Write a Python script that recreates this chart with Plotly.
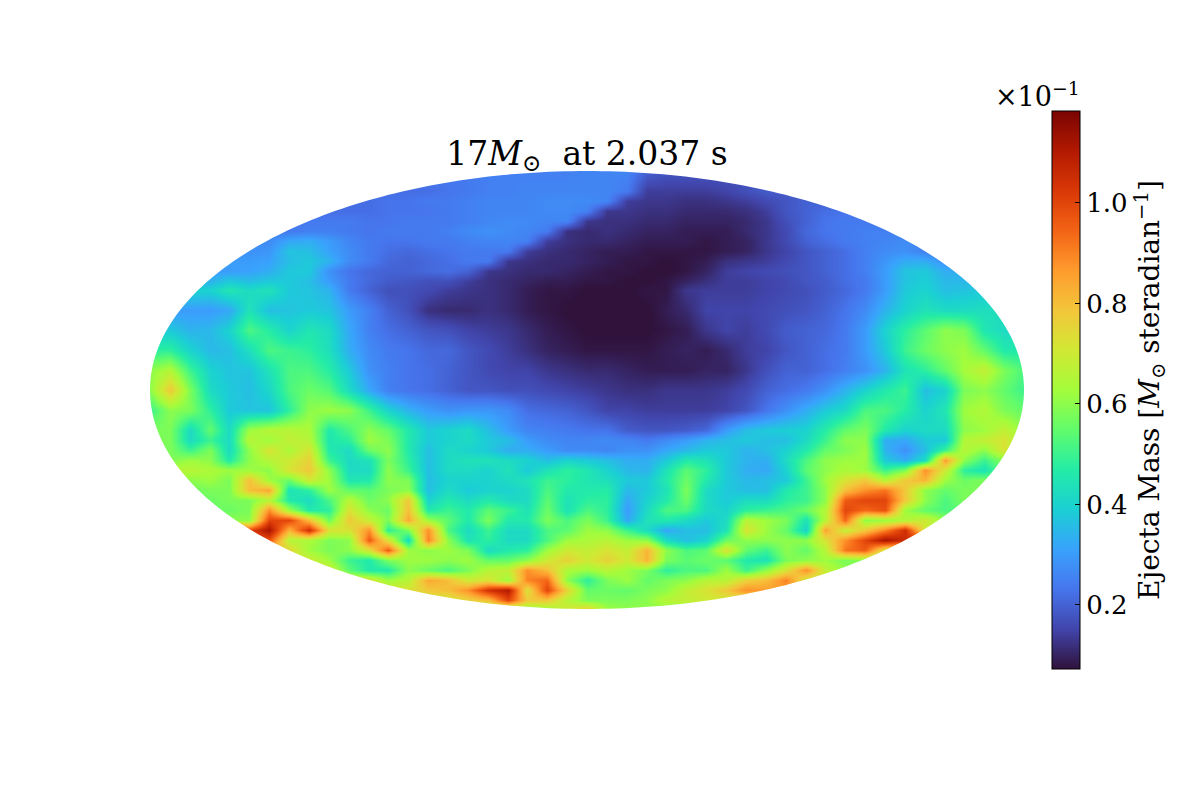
import numpy as np
import plotly.graph_objects as go

# Ejecta mass map, in units of 0.01 (before the x10^-1 factor).
# Each row holds only the cells inside the ellipse: (first column, values).
n_cols = 45
half_width = 437
half_height = 219
center_row = 390

scan_rows = [171, 191, 201, 211, 221, 231, 241, 251, 261, 271, 281, 290, 310, 330, 350, 370, 390, 410, 430,
             440, 450, 460, 470, 480, 490, 500, 510, 520, 530, 540, 550, 560, 570,
             580, 590, 600, 609]

north_rows = [
    (15, [24, 24, 25, 25, 25, 25, 25, 26, 26, 26, 20, 18, 18, 18, 18, 18, 19, 20, 20, 21]),
    (13, [22, 22, 23, 24, 25, 25, 26, 26, 26, 26, 26, 24, 14, 14, 14, 14, 15, 17, 19]),
    (11, [22, 23, 23, 24, 24, 25, 26, 26, 26, 27, 27, 27, 26, 14, 13, 13, 12, 12, 13, 14, 16, 18, 20]),
    (10, [22, 22, 23, 23, 23, 24, 25, 26, 26, 26, 27, 27, 25, 13, 13, 12, 12, 11, 11, 11, 12, 14, 18, 20, 22, 23]),
    (8, [24, 24, 24, 23, 23, 24, 24, 24, 25, 26, 27, 27, 26, 26, 13, 12, 12, 11, 11, 10, 10, 10, 11, 13, 17, 20, 23, 24, 24]),
    (7, [24, 25, 25, 24, 23, 24, 24, 24, 25, 27, 28, 27, 26, 24, 12, 11, 12, 11, 10, 10, 9, 9, 9, 11, 13, 16, 21, 23, 24, 25, 25]),
    (6, [27, 32, 33, 30, 26, 24, 23, 23, 24, 24, 25, 26, 26, 25, 14, 12, 11, 11, 10, 9, 9, 9, 8, 9, 10, 13, 16, 20, 22, 24, 25, 26, 27]),
    (5, [28, 29, 37, 36, 31, 27, 24, 22, 21, 22, 23, 24, 24, 24, 14, 12, 11, 10, 9, 9, 8, 8, 8, 8, 9, 10, 13, 15, 18, 20, 22, 25, 27, 28, 25]),
    (5, [30, 31, 36, 38, 34, 27, 24, 21, 20, 21, 22, 24, 24, 13, 12, 11, 11, 10, 9, 8, 8, 7, 8, 9, 12, 13, 14, 16, 18, 20, 22, 25, 29, 33, 33, 28]),
    (4, [30, 31, 33, 38, 38, 28, 23, 21, 20, 20, 21, 22, 20, 13, 12, 11, 11, 10, 9, 8, 8, 7, 7, 8, 10, 14, 15, 16, 17, 18, 20, 22, 25, 30, 37, 38, 33, 33]),
    (3, [34, 38, 36, 38, 38, 36, 30, 24, 21, 19, 18, 17, 17, 14, 12, 11, 10, 9, 9, 8, 8, 7, 7, 8, 10, 12, 14, 14, 15, 16, 18, 19, 22, 24, 30, 37, 39, 35, 35]),
    (3, [40, 45, 42, 44, 38, 37, 34, 24, 20, 17, 17, 16, 14, 13, 12, 11, 9, 8, 8, 7, 7, 7, 8, 8, 13, 14, 14, 14, 15, 16, 17, 19, 21, 24, 30, 38, 40, 36, 37, 38]),
    (2, [30, 30, 32, 44, 36, 37, 38, 37, 30, 25, 20, 17, 12, 11, 11, 12, 11, 9, 8, 7, 7, 7, 7, 7, 9, 11, 15, 15, 15, 16, 17, 18, 20, 23, 27, 34, 40, 44, 42, 42, 43]),
    (1, [38, 34, 35, 40, 52, 47, 40, 45, 42, 32, 25, 22, 20, 18, 17, 15, 14, 13, 11, 9, 8, 7, 7, 7, 7, 8, 9, 13, 15, 14, 16, 19, 20, 21, 24, 30, 40, 48, 54, 60, 58, 45, 42]),
    (1, [48, 40, 35, 36, 43, 52, 50, 48, 43, 33, 27, 24, 23, 21, 21, 18, 16, 14, 12, 10, 9, 8, 8, 8, 8, 9, 10, 9, 11, 14, 15, 18, 20, 22, 24, 30, 38, 50, 56, 60, 62, 55, 46]),
    (0, [60, 65, 50, 40, 37, 37, 44, 52, 52, 47, 38, 28, 25, 23, 22, 20, 18, 16, 15, 15, 13, 12, 11, 11, 10, 9, 9, 9, 10, 10, 13, 17, 20, 20, 22, 25, 28, 34, 44, 48, 55, 63, 68, 58, 52]),
]

equator_rows = [
    (0, [60, 78, 58, 42, 38, 36, 41, 52, 56, 53, 42, 32, 25, 23, 22, 20, 18, 18, 17, 17, 16, 15, 14, 13, 12, 12, 13, 13, 13, 14, 16, 20, 22, 24, 28, 34, 40, 46, 50, 36, 40, 58, 60, 55, 50]),
    (0, [50, 60, 58, 48, 38, 37, 37, 48, 60, 62, 60, 50, 40, 34, 30, 28, 29, 29, 27, 22, 21, 20, 18, 15, 15, 14, 14, 14, 14, 15, 18, 23, 28, 33, 38, 42, 52, 52, 47, 40, 45, 62, 65, 58, 55]),
    (0, [58, 58, 42, 55, 42, 62, 66, 66, 64, 46, 52, 60, 55, 46, 38, 40, 42, 36, 30, 26, 25, 24, 23, 23, 19, 18, 18, 19, 21, 30, 36, 38, 39, 40, 47, 55, 58, 46, 40, 42, 42, 60, 62, 68, 60]),
]

south_rows = [
    (0, [58, 58, 42, 50, 42, 66, 62, 68, 66, 45, 48, 62, 58, 46, 38, 40, 42, 38, 36, 30, 27, 26, 26, 27, 26, 24, 27, 30, 34, 36, 38, 36, 36, 42, 50, 60, 60, 33, 32, 38, 38, 65, 68, 72, 62]),
    (0, [56, 58, 50, 58, 42, 60, 72, 64, 72, 46, 42, 56, 60, 46, 36, 42, 40, 38, 33, 33, 30, 27, 27, 26, 28, 28, 32, 35, 38, 38, 34, 36, 40, 46, 55, 58, 62, 34, 28, 36, 50, 66, 60, 72, 60]),
    (0, [58, 58, 62, 60, 46, 60, 66, 70, 76, 50, 42, 44, 58, 48, 36, 42, 44, 44, 42, 40, 36, 40, 38, 36, 33, 33, 38, 46, 44, 38, 34, 33, 42, 52, 60, 62, 62, 38, 33, 42, 86, 60, 50, 60, 60]),
    (2, [66, 64, 62, 62, 60, 72, 78, 60, 42, 42, 60, 50, 36, 42, 42, 40, 44, 38, 44, 48, 45, 40, 35, 34, 44, 54, 48, 38, 33, 32, 40, 54, 60, 64, 62, 50, 58, 88, 70, 48, 44, 55]),
    (2, [60, 62, 58, 80, 62, 56, 70, 62, 45, 46, 60, 58, 36, 40, 40, 40, 42, 44, 50, 48, 45, 43, 38, 38, 46, 56, 46, 38, 35, 36, 38, 50, 62, 72, 78, 66, 78, 82, 62, 56, 58, 55]),
    (2, [56, 58, 58, 80, 84, 44, 48, 62, 55, 54, 58, 60, 36, 42, 38, 40, 40, 42, 52, 46, 46, 47, 35, 38, 44, 58, 42, 38, 36, 36, 46, 50, 60, 80, 88, 92, 78, 60, 55, 58, 58]),
    (3, [56, 58, 58, 66, 46, 42, 52, 66, 56, 60, 78, 40, 46, 42, 46, 42, 42, 54, 44, 48, 48, 32, 40, 46, 56, 42, 38, 42, 42, 48, 50, 60, 96, 100, 100, 78, 60, 52, 58, 56]),
    (4, [56, 58, 88, 62, 46, 48, 72, 60, 56, 80, 46, 50, 46, 54, 50, 44, 56, 44, 52, 48, 30, 42, 52, 52, 42, 40, 48, 50, 52, 56, 65, 100, 94, 98, 62, 55, 52, 55]),
    (5, [60, 100, 100, 80, 56, 78, 68, 58, 84, 62, 54, 46, 58, 46, 46, 58, 52, 58, 50, 32, 44, 46, 42, 38, 42, 66, 62, 58, 44, 66, 94, 60, 62, 65, 70, 60]),
    (5, [100, 112, 82, 105, 72, 72, 88, 48, 58, 88, 52, 42, 50, 42, 42, 52, 54, 62, 60, 50, 42, 32, 36, 36, 44, 72, 62, 55, 40, 85, 68, 78, 90, 105, 70, 60]),
    (6, [98, 66, 64, 58, 60, 96, 72, 42, 90, 60, 44, 48, 42, 42, 52, 62, 64, 66, 62, 60, 42, 36, 40, 56, 60, 60, 60, 60, 72, 88, 100, 112, 105]),
    (7, [75, 62, 58, 60, 72, 96, 62, 60, 62, 58, 42, 46, 48, 62, 70, 68, 72, 68, 82, 60, 52, 54, 72, 55, 50, 60, 55, 66, 92, 96, 70]),
    (8, [70, 62, 50, 46, 58, 62, 62, 60, 62, 55, 55, 60, 70, 76, 70, 76, 70, 82, 58, 54, 56, 54, 46, 44, 58, 60, 62, 58, 60]),
    (9, [70, 54, 46, 46, 60, 56, 52, 58, 66, 68, 88, 80, 64, 62, 66, 62, 58, 48, 52, 52, 62, 50, 60, 72, 88, 68, 60]),
    (11, [72, 62, 66, 84, 80, 70, 72, 62, 90, 94, 60, 48, 58, 62, 55, 58, 60, 66, 66, 76, 80, 90, 70]),
    (13, [72, 78, 80, 88, 104, 110, 72, 100, 75, 55, 56, 55, 58, 60, 68, 72, 78, 88, 86]),
    (15, [70, 76, 80, 100, 78, 78, 66, 58, 58, 58, 60, 66, 68, 70]),
    (17, [60, 60, 60, 62, 70, 76, 62, 60, 60, 60]),
]

tick_values = [0.2, 0.4, 0.6, 0.8, 1.0]
mass_min = 0.0726
mass_max = 1.183


def fill_row(first, values):
    # cells outside the ellipse get hidden by the mask, just repeat the edge value
    return [values[0]] * first + values + [values[-1]] * (n_cols - first - len(values))


rows = north_rows + equator_rows + south_rows
z = np.array([fill_row(first, values) for first, values in rows]) / 100.0
x_plane = np.linspace(-half_width, half_width, n_cols)
y_plane = center_row - np.array(scan_rows)

fig = go.Figure()

fig.add_trace(go.Heatmap(
    x=x_plane,
    y=y_plane,
    z=z,
    zmin=mass_min,
    zmax=mass_max,
    zsmooth='best',
    colorscale='Turbo',
    colorbar=dict(
        x=(1052 - 150) / 874,
        xanchor='left',
        xpad=0,
        y=0.5,
        yanchor='middle',
        ypad=0,
        lenmode='pixels',
        len=558,
        thickness=28,
        outlinewidth=1,
        outlinecolor='black',
        tickvals=tick_values,
        tickformat='.1f',
        ticks='inside',
        ticklen=5,
        tickcolor='black',
        tickfont=dict(family='DejaVu Serif', size=26, color='black'),
        title=dict(
            text='Ejecta Mass [<i>M</i><sub>⊙</sub> steradian<sup>−1</sup>]',
            side='right',
            font=dict(family='DejaVu Serif', size=28, color='black'),
        ),
    ),
))

# white mask around the ellipse, even-odd fill leaves the inside showing
theta = np.linspace(0, 2 * np.pi, 361)
ring = ' L '.join(f'{half_width * np.cos(t):.2f},{half_height * np.sin(t):.2f}' for t in theta)
pad = 5
box = (f'M {-half_width - pad},{-half_height - pad} L {half_width + pad},{-half_height - pad} '
       f'L {half_width + pad},{half_height + pad} L {-half_width - pad},{half_height + pad} Z')
fig.add_shape(type='path', path=f'{box} M {ring} Z', fillcolor='white',
              line_width=0, xref='x', yref='y', layer='above')

fig.add_annotation(
    text='×10<sup>−1</sup>',
    xref='paper', yref='paper',
    x=(1082 - 150) / 874, y=(609 - 95) / 438,
    xanchor='right', yanchor='middle',
    showarrow=False,
    font=dict(family='DejaVu Serif', size=27, color='black'),
)

# the page body has an 8px margin, so the figure is 16px smaller and shifted
fig.update_layout(
    width=1184,
    height=784,
    margin=dict(l=142, r=168, t=163, b=183),
    paper_bgcolor='white',
    plot_bgcolor='white',
    title=dict(
        text='17<i>M</i><sub>⊙</sub>  at 2.037 s',
        x=(587 - 8) / 1184,
        xanchor='center',
        y=(784 - 145) / 784,
        yanchor='middle',
        font=dict(family='DejaVu Serif', size=33, color='black'),
    ),
    xaxis=dict(visible=False, range=[-half_width, half_width]),
    yaxis=dict(visible=False, range=[-half_height, half_height]),
)

fig.write_html("out.html")
